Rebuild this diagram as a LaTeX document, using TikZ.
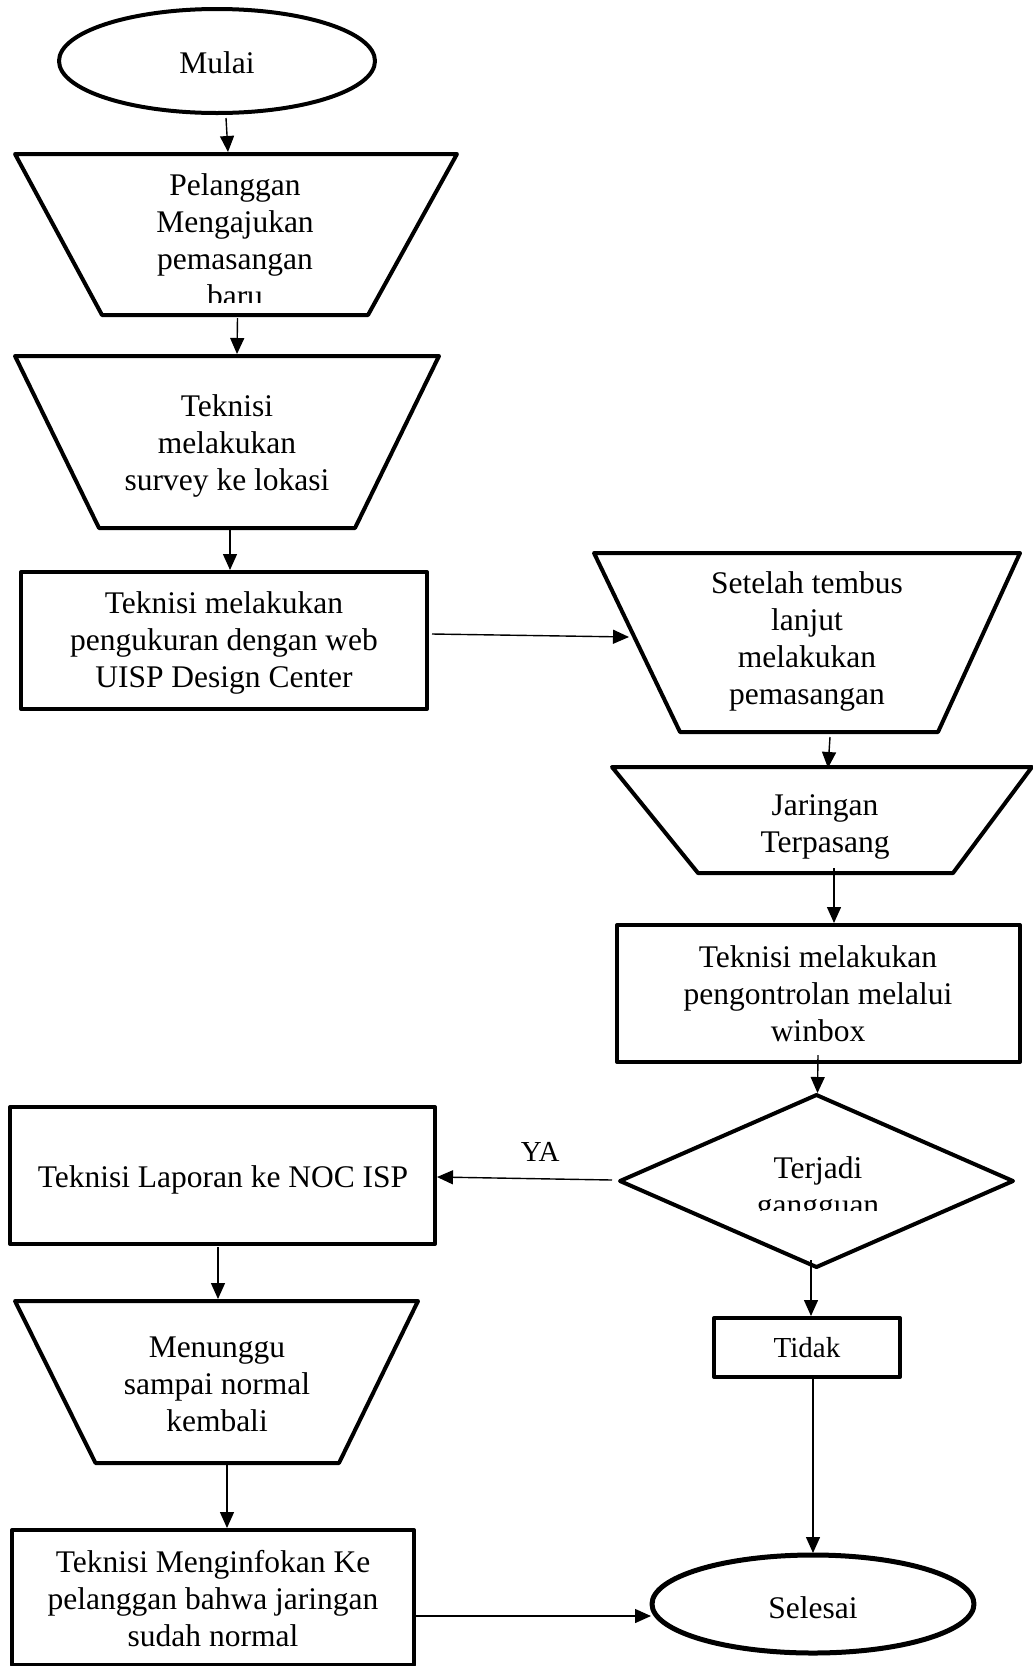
\documentclass[tikz,border=0pt]{standalone}
\usepackage{fontspec}
\setmainfont{Liberation Serif}
\usetikzlibrary{shapes.geometric,arrows.meta}
\newcommand\flowfont{\fontsize{31.5}{37}\selectfont}
\newcommand\smallflowfont{\fontsize{29}{37}\selectfont}
% outline of a manual-operation box: node name, left inset, right inset of the bottom side
\newcommand\manualoutline[3]{%
  \draw[shapeline] (#1.north west) -- (#1.north east)
    -- ([xshift=-#3pt]#1.south east) -- ([xshift=#2pt]#1.south west) -- cycle;}

\begin{document}
\begin{tikzpicture}[x=1pt,y=-1pt,
  shapeline/.style={draw=black, line width=4pt, line join=round, inner sep=0pt, outer sep=0pt},
  terminal/.style={shapeline, ellipse},
  procbox/.style={shapeline, rectangle},
  manualop/.style={rectangle, inner sep=0pt, outer sep=0pt},
  decision/.style={shapeline, diamond},
  txt/.style={align=center, inner sep=0pt, anchor=north, font=\flowfont},
  flow/.style={line width=1.4pt, -{Triangle[length=16pt,width=14pt]}},
]
\useasboundingbox (0,0) rectangle (1033,1666);
\fill[white] (0,0) rectangle (1033,1666);

% ---------- shapes ----------
\node[terminal, minimum width=316pt, minimum height=104pt] (mulai) at (217,61) {};
\node[manualop, minimum width=442pt, minimum height=161pt] (t1) at (236,234.5) {};
\manualoutline{t1}{87}{89}
\node[manualop, minimum width=424pt, minimum height=172pt] (t2) at (227,442) {};
\manualoutline{t2}{84}{84}
\node[procbox, minimum width=406pt, minimum height=137pt] (r3) at (224,640.5) {};
\node[manualop, minimum width=426pt, minimum height=179pt] (t3) at (807,642.5) {};
\manualoutline{t3}{86}{82}
\node[manualop, minimum width=420pt, minimum height=106pt] (t4) at (822,820) {};
\manualoutline{t4}{86}{79}
\node[procbox, minimum width=403pt, minimum height=137pt] (r4) at (818.5,993.5) {};
\node[decision, minimum width=393pt, minimum height=172pt] (dia) at (816.5,1181) {};
\node[procbox, minimum width=425pt, minimum height=137pt] (noc) at (222.5,1175.5) {};
\node[procbox, minimum width=186pt, minimum height=59pt] (tidak) at (807,1347.5) {};
\node[manualop, minimum width=403pt, minimum height=162pt] (t5) at (216.5,1382) {};
\manualoutline{t5}{80.5}{79}
\node[procbox, minimum width=402pt, minimum height=135pt] (r5) at (213,1597.5) {};
\node[terminal, line width=5pt, minimum width=322pt, minimum height=98pt] (selesai) at (813,1604) {};

% ---------- texts ----------
\node[txt] (mulai-txt) at (217,47.1) {\strut Mulai};
\begin{scope}
  \clip (0,150) rectangle (1033,302);
  \node[txt] (t1-txt) at (235,169.1) {\strut Pelanggan\\Mengajukan\\pemasangan\\baru};
\end{scope}
\node[txt] (t2-txt) at (227,390.1) {\strut Teknisi\\melakukan\\survey ke lokasi};
\node[txt] (r3-txt) at (224,587.1) {\strut Teknisi melakukan\\pengukuran dengan web\\UISP Design Center};
\node[txt] (t3-txt) at (807,567.1) {\strut Setelah tembus\\lanjut\\melakukan\\pemasangan};
\node[txt] (t4-txt) at (825,789.1) {\strut Jaringan\\Terpasang};
\node[txt] (r4-txt) at (818,941.1) {\strut Teknisi melakukan\\pengontrolan melalui\\winbox};
\begin{scope}
  \clip (600,1100) rectangle (1033,1210);
  \node[txt] (dia-txt) at (818,1152.1) {\strut Terjadi\\gangguan};
\end{scope}
\node[txt] (noc-txt) at (223,1161.1) {\strut Teknisi Laporan ke NOC ISP};
\node[txt, font=\smallflowfont] (tidak-txt) at (807,1331.1) {\strut Tidak};
\node[txt] (t5-txt) at (217,1331.1) {\strut Menunggu\\sampai normal\\kembali};
\node[txt] (r5-txt) at (213,1546.1) {\strut Teknisi Menginfokan Ke\\pelanggan bahwa jaringan\\sudah normal};
\node[txt] (selesai-txt) at (813,1592.1) {\strut Selesai};

% ---------- connectors ----------
\draw[flow] ([shift={(9,5)}]mulai.south) -- ([shift={(-8,-2)}]t1.north);
\draw[flow] ([shift={(1.5,3)}]t1.south) -- ([shift={(10,-2)}]t2.north);
\draw[flow] ([shift={(3,1)}]t2.south) -- ([shift={(6,-2)}]r3.north);
\draw[flow] ([shift={(5,-6.5)}]r3.east) -- ([shift={(-178,-5.5)}]t3.center);
\draw[flow] ([shift={(23,5)}]t3.south) -- ([shift={(6,1)}]t4.north);
\draw[flow] ([shift={(12,-5)}]t4.south) -- ([shift={(15.5,-2)}]r4.north);
\draw[flow] ([shift={(-0.5,-7)}]r4.south) -- ([shift={(1,-2)}]dia.north);
\draw[flow] ([shift={(-8,-1)}]dia.west) -- node[pos=0.41, above=17pt, inner sep=0pt, font=\smallflowfont] (ya) {YA} ([shift={(2,1.5)}]noc.east);
\draw[flow] ([shift={(-5.5,-7)}]dia.south) -- ([shift={(4,-2)}]tidak.north);
\draw[flow] ([shift={(6,1)}]tidak.south) -- ([shift={(0,-2)}]selesai.north);
\draw[flow] ([shift={(-4.5,3)}]noc.south) -- ([shift={(1.5,-2)}]t5.north);
\draw[flow] ([shift={(10.5,1)}]t5.south) -- ([shift={(14,-2)}]r5.north);
\draw[flow] ([shift={(2,18.5)}]r5.east) -- ([shift={(-1,12)}]selesai.west);
\end{tikzpicture}
\end{document}
